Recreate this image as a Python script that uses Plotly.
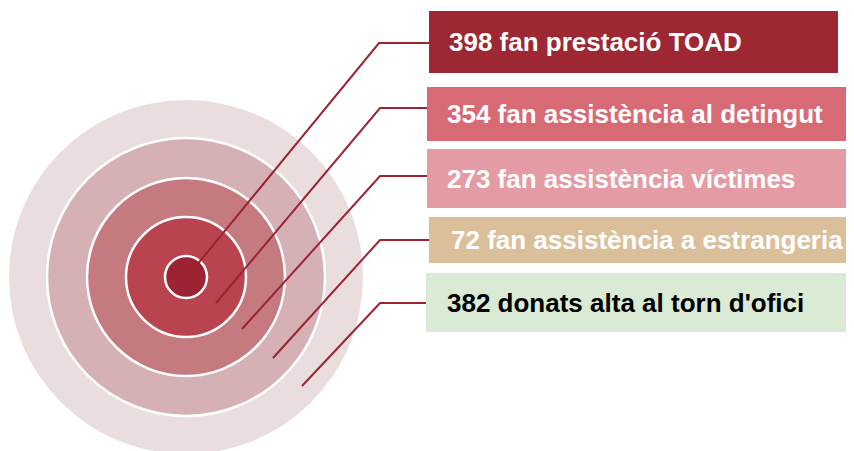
import plotly.graph_objects as go

# data
counts = [398, 354, 273, 72, 382]
labels = [
    'fan prestació TOAD',
    'fan assistència al detingut',
    'fan assistència víctimes',
    'fan assistència a estrangeria',
    "donats alta al torn d'ofici",
]
box_colors = ['#9E2734', '#D86A75', '#E59BA3', '#DBBF9B', '#D9EAD5']
text_colors = ['white', 'white', 'white', 'white', 'black']

# target rings, outermost first
ring_radii = [177, 139, 99, 60, 21]
ring_colors = ['#E9DDDE', '#D5B0B4', '#C57A80', '#B9434F', '#9B2332']

# layout (page-pixel units, y downwards); the page body adds an 8px margin
W, H = 854, 451
PAD = 8
cx, cy = 186, 277
boxes = [  # x0, x1, y0, y1
    (429, 838, 11, 73),
    (427, 854, 87, 141),
    (427, 854, 149, 208),
    (429, 847, 217, 263),
    (426, 854, 273, 332),
]
text_x = [447, 445, 445, 449, 445]
line_top = [(379, 43), (380, 108), (380, 176), (380, 240), (380, 303)]
line_end = [(187, 277), (216, 303), (242, 329), (273, 358), (302, 386)]
line_color = '#9B2332'

fig = go.Figure()
shapes = []
for i, (r, c) in enumerate(zip(ring_radii, ring_colors)):
    shapes.append(dict(
        type='circle', xref='x', yref='y',
        x0=cx - r, x1=cx + r, y0=cy - r, y1=cy + r,
        fillcolor=c,
        line=dict(color='white', width=0 if i == 0 else 2.5),
        layer='below',
    ))

for (x0, x1, y0, y1), c in zip(boxes, box_colors):
    shapes.append(dict(type='rect', xref='x', yref='y', x0=x0, x1=x1, y0=y0, y1=y1,
                       fillcolor=c, line=dict(width=0), layer='below'))

for (ex, ey), (tx, ty), b in zip(line_end, line_top, boxes):
    shapes.append(dict(type='path', xref='x', yref='y',
                       path=f'M {ex} {ey} L {tx} {ty} L {b[0]} {ty}',
                       line=dict(color=line_color, width=2)))

annotations = []
for n, lab, b, tx, tc in zip(counts, labels, boxes, text_x, text_colors):
    annotations.append(dict(
        x=tx, y=(b[2] + b[3]) / 2, xref='x', yref='y',
        text=f'<b>{n} {lab}</b>', showarrow=False,
        xanchor='left', yanchor='middle',
        font=dict(family='Liberation Sans, Arial, sans-serif', size=26, color=tc),
    ))

fig.update_layout(
    width=W - PAD, height=H - PAD,
    margin=dict(l=0, r=0, t=0, b=0),
    paper_bgcolor='white', plot_bgcolor='white',
    xaxis=dict(range=[PAD, W], visible=False, fixedrange=True),
    yaxis=dict(range=[H, PAD], visible=False, fixedrange=True),
    shapes=shapes, annotations=annotations,
    showlegend=False,
)
fig.write_html('out.html')
